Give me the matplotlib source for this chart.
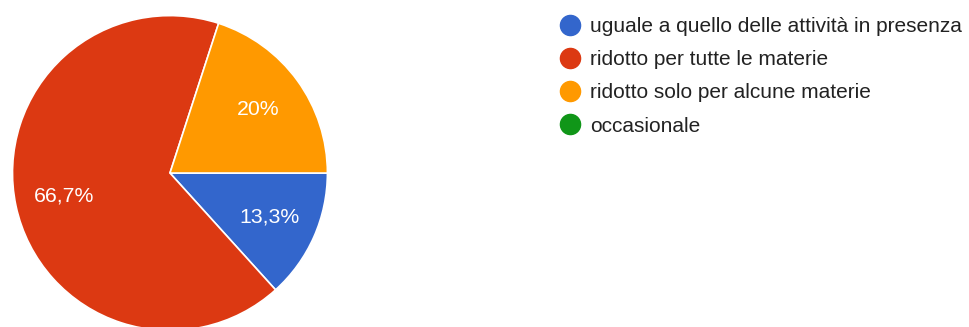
import numpy as np
import matplotlib
matplotlib.use("Agg")
import matplotlib.pyplot as plt
from matplotlib.lines import Line2D

labels = ["uguale a quello delle attività in presenza",
          "ridotto per tutte le materie",
          "ridotto solo per alcune materie",
          "occasionale"]
values = [13.3, 66.7, 20.0, 0.0]
pct_text = ["13,3%", "66,7%", "20%", ""]
colors = ["#3366CC", "#DC3912", "#FF9900", "#109618"]

plt.rcParams["font.family"] = ["Liberation Sans", "DejaVu Sans"]

fig = plt.figure(figsize=(9.69, 3.27), dpi=100)
ax = fig.add_axes([0.0129, -0.0107, 0.325, 0.963])

shown = [v for v in values if v > 0]
wedges, _ = ax.pie(shown, colors=colors[:len(shown)], startangle=0, counterclock=False,
                   radius=1, wedgeprops=dict(edgecolor="white", linewidth=1.2))
for w, t in zip(wedges, pct_text):
    ang = np.deg2rad((w.theta1 + w.theta2) / 2)
    ax.text(0.69 * np.cos(ang), 0.69 * np.sin(ang), t, color="white",
            fontsize=15.3, ha="center", va="center")
ax.set_xlim(-1, 1)
ax.set_ylim(-1, 1)
ax.set_aspect("equal")
ax.axis("off")

handles = [Line2D([], [], marker="o", linestyle="none", markersize=14.5,
                  markerfacecolor=c, markeredgecolor=c) for c in colors]
fig.legend(handles, labels, loc="upper left", bbox_to_anchor=(0.5667, 0.973),
           frameon=False, fontsize=15, labelcolor="#222222",
           handletextpad=0.35, labelspacing=0.68, handlelength=1.2, borderaxespad=0)

fig.savefig("out.png", dpi=100)
